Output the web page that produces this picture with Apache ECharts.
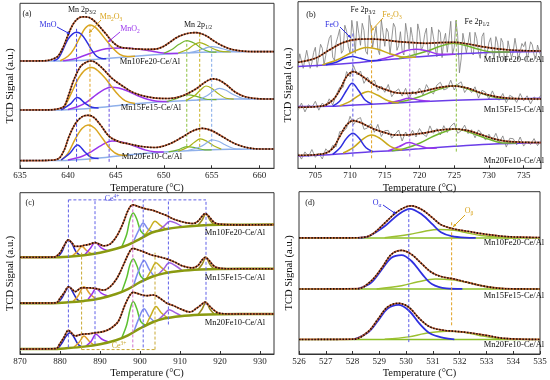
<!DOCTYPE html>
<html><head><meta charset="utf-8">
<script src="https://cdn.jsdelivr.net/npm/echarts@6/dist/echarts.min.js"></script>
<style>html,body{margin:0;padding:0;background:#fff}#c{width:550px;height:380px}</style>
</head><body><div id="c"></div>
<script>
// ---------- Panel (a) Mn 2p ----------
const aTicks = [635,640,645,650,655,660];
const aBgX = [635,639,641,643,645,647,649,651,653,655,657,659,661.5];
const a1Bg = [107.3,107.3,107.8,109,110.5,112,113.5,114.7,115.6,116.2,116.5,116.7,116.7];
const a2Bg = [58.3,58.3,59,60.5,62.5,64.5,66,67,68,68.8,69.2,69.3,69.3];
const a3Bg = [7.7,7.7,8.5,10,12,14,15.5,16.8,17.8,18.6,19,19.2,19.3];
const a1Env = [[635,107.3],[637,107.4],[638,108],[638.5,109.5],[639,112.5],[639.5,121],[640,133],[640.5,143.5],[641,149.5],[641.5,151.5],[642,151.3],[642.5,149.3],[643,145],[643.5,139.5],[644,134],[644.5,128],[645,123.5],[645.5,121],[646.5,119.8],[647.5,119.2],[648.5,119],[649.3,119.5],[650,122],[650.7,126.5],[651.3,130.5],[652,133.5],[652.7,135.3],[653.3,135.7],[654,134.3],[654.6,131.5],[655.2,127.5],[656,123],[656.8,119.8],[657.6,118],[658.5,117],[659.5,116.7],[661.5,116.7]];
const a1MnO = [[638.5,107.5],[639,110],[639.5,119],[640,129],[640.5,134.5],[640.9,136],[641.4,134],[642,126],[642.5,118],[643,112],[643.5,109.8],[644,109.6]];
const a1Mn2O3 = [[639.2,107.5],[640,112],[640.6,119],[641.3,132],[641.8,140],[642.3,143.3],[642.8,141.5],[643.3,136.5],[644,128],[644.7,120],[645.4,114],[646.2,111.8],[647,112]];
const a1MnO2 = [[639.5,107.5],[640.5,109],[641.5,112],[642.5,115.5],[643.5,118.5],[644.5,120],[645.5,120.3],[646.5,120],[647.5,119],[648.5,117.5],[649.5,115.8],[650.5,114.8],[651.5,114.8]];
const a1P1 = [[650,115],[650.8,118.5],[651.6,124],[652.4,127.7],[653.2,125],[654,119.5],[654.8,116.5],[655.5,116.2]];
const a1P2 = [[651.5,115.2],[652.5,119],[653,122.5],[653.75,125.7],[654.5,123],[655.3,119],[656.2,116.6],[657,116.5]];
const a1P3 = [[652.5,115.5],[653.5,117.5],[654.3,120],[655,121.7],[655.8,120.5],[656.7,118],[657.7,116.7],[658.5,116.6]];
const a2Env = [[635,58.3],[638,58.4],[639,59.5],[639.6,62],[640.1,74],[640.6,88],[641.3,101.5],[642,106.5],[642.5,107.3],[643.2,103.5],[643.9,97],[644.6,90],[645.7,82.3],[647,75],[648.8,70.7],[650.5,69.8],[651.9,72.3],[653.3,79],[654.3,86],[655.1,89.5],[655.8,88],[656.6,83],[657.4,76.5],[658.5,71.5],[660,69.5],[661.5,69.3]];
const a2MnO = [[639.3,58.5],[640.2,64],[641,70.7],[641.8,65],[642.5,61],[643.2,60.3]];
const a2Mn2O3 = [[639.5,58.6],[640.1,70],[640.6,80],[641.1,90],[641.8,98.5],[642.5,100.7],[643.2,97],[643.9,90],[644.6,81],[645.3,73],[646,67.5],[647,64.8]];
const a2MnO2 = [[640,58.8],[641,61.5],[642,66.5],[643,74],[643.8,79],[644.5,81],[645.3,80.3],[646.3,77],[647.3,72.5],[648.3,69],[649.3,67],[650.5,66.6]];
const a2P1 = [[650.3,66.8],[651.3,69.5],[652.5,73.5],[653.6,71.5],[654.6,68.8],[655.5,68.7]];
const a2P2 = [[652.3,67.7],[653.2,72.5],[653.8,78],[654.4,82.3],[655,80],[655.7,74.5],[656.5,70],[657.3,69.2]];
const a2P3 = [[653.5,68.3],[654.5,72.5],[655.2,77.5],[655.8,80],[656.5,78],[657.3,73.5],[658.2,70],[659,69.3]];
const a3Env = [[635,7.7],[638,8],[639,9.5],[639.6,18],[640.1,31.5],[640.8,45],[641.5,51.7],[642.1,53],[642.7,51],[643.4,43.3],[644.3,32],[645.3,26.7],[646.4,24.3],[647.7,21.8],[649.1,20.8],[650.5,24],[651.9,31],[653,37.3],[654,40],[655,37.7],[656.1,31.7],[657.5,24.3],[658.9,20.3],[660.2,19.3],[661.5,19.3]];
const a3MnO = [[639.3,8.3],[640.2,15],[641,23.3],[641.8,16],[642.5,10.5],[643.2,9.8]];
const a3Mn2O3 = [[639.3,8.2],[640,15],[640.8,30],[641.5,40],[642.1,43.3],[642.8,40],[643.6,30],[644.5,18.5],[645.3,13.5],[646.2,12.8]];
const a3MnO2 = [[640,8.2],[641.5,12],[642.5,17],[643.5,23],[644.6,27.3],[645.7,26],[647,22],[648,18.5],[649,16.5],[650,16.3]];
const a3P1 = [[650.5,16.5],[651.5,18.5],[652.4,21.7],[653.3,20.5],[654.3,18.5],[655,18.5]];
const a3P2 = [[651.5,17],[652.5,21],[653.2,26],[653.8,29.5],[654.5,27],[655.2,22.5],[656,19.2]];
const a3P3 = [[652.5,17.6],[653.8,21.5],[654.5,25.5],[655,28.5],[655.7,27],[656.4,23.5],[657.3,19.8],[658,19.1]];
const aLineX = [640.9,642.3,644.3,652.4,653.75,655];
const aLineTop = [140,143,128,128,135,122];
const aLineBot = [6.5,6.5,6.5,21.5,21.5,21.5];

// ---------- Panel (b) Fe 2p ----------
const bTicks = [705,710,715,720,725,730,735];
const bRawStart = 702.5;
const b1RawStep = 0.25, b23RawStep = 0.5;
const b1Raw = [101,114.5,113,100,98.5,118,116.5,100,105.5,115.8,121,101,100,124,120,103,113,122,130,133,111,108,126,132,139,115,118,143,137,121.5,115,148,135.5,115,147,135,123,145,138,117,114,153,141,121,132,142,119,113.7,148.5,135.4,122,140,136,113.8,115.5,145,141,118,122.7,136.6,117.4,113.3,145,134,119,141,130.7,114.6,112.5,144.4,136.3,118,122,134,140,113,117,141.3,131.4,120.5,111.6,138.6,135.7,110.7,127.8,135,116,130,147,114,121,147.8,132.7,95.5,109.3,135,136,115.5,125.3,136,115.6,113.3,136,129.6,116.3,110,131.7,135.5,110,116,125.7,130.5,117,109,131.7,125.5,110.3,130,126,108.8,106.6,127.5,126.3,110.2,117,130,129,109,111,124.8,121.7,126.6,107.6,107.5,126.5,123.5,113.4,109.4,123.3,125.3,111.3];
const b2Raw = [58,65.2,56.4,63.6,60.8,67,58.1,65.3,61.5,69.5,63.3,73.5,81,81,96.7,91.5,102.7,93.5,97.3,85,91.3,84.8,88.3,77.8,82.3,76,83.8,71.6,76.7,79.4,72.2,80,69.2,77.4,73.7,80.3,73,83.7,77.5,74.3,83.2,86,78.4,79.8,88.1,78.3,84,86.5,75.8,81,75.8,81.5,70.2,78,76.1,69.2,77.4,69.7,68.2,74.8,65.4,73,70.9,65.8,74.7,67.6,72.5,64.4,71.4,68.3,73.3];
const b3Raw = [15,9.2,16.4,11.6,18.8,11,15.1,9.3,19.5,15.5,23,21.5,36.7,36.5,40.3,52,43.7,49,50.7,39,40.3,44.6,36,43.9,31.8,37.7,37.9,30.1,34.3,38.3,27.3,36.3,31.6,38,31.3,39.8,34.2,31.7,42.4,35,39.7,33.3,42.6,35.8,42.1,45.3,35,37.5,43.1,34.7,38.6,30.5,38.4,34.3,28.2,34.1,28,35,26,32.4,21.2,30,29.6,23.4,31.3,22.2,26.9,23.8,29.7,22.7,27.7];
const bBgX = [702.5,707,710,713,716,720,725,730,737.5];
const b1Bg = [101.7,103.5,105,107,109,111.5,114,115.7,116.7];
const b2Bg = [61.7,62,63,64,65,66.5,68,69,70];
const b3Bg = [12.3,13.5,15,16.5,17.5,19.5,22,24,25.7];
const b1Env = [[702.5,106],[705,110],[707,118.3],[709,125.7],[711,129],[713,129.3],[715,128.3],[717,126.7],[719,125.7],[721,125],[723,125.7],[725,126],[727,124.3],[729,121.7],[731,119.7],[733,118.3],[735,117.7],[737.5,117.3]];
const b2Env = [[702.5,61],[706,62.3],[707.5,68.3],[708.5,78],[709.5,91.7],[710.5,96.7],[711.5,93.3],[712.5,88.3],[713.5,83.3],[715,79],[716.5,75.7],[718,75],[719.5,75.7],[721,77.7],[723,81],[725,82.3],[727,80],[729,75],[731,71.7],[733,70],[737.5,69.3]];
const b3Env = [[702.5,13],[706,14.3],[707.5,20],[708.5,31.7],[709.5,43.3],[710.5,47.7],[711.5,45.7],[712.5,42.3],[713.5,39],[715,35.7],[716.5,33.3],[718,33.3],[719.5,34.3],[721,35.7],[723,38.3],[725,39.3],[727,37.7],[729,33.3],[731,29],[733,26.7],[737.5,25.7]];
const b1FeO = [[706.5,103.6],[708,106],[709.2,110],[710.3,111.7],[711.5,110],[713,107.6],[714.5,108]];
const b1Fe2O3 = [[706,103.4],[708,108],[710,115],[711.5,119.5],[712.5,120.7],[714,119],[716,114],[718,111],[719.5,111]];
const b1Sat = [[714,108.3],[716,112],[718,117.5],[719.5,119],[721,117.5],[723,114],[725,114]];
const b1P = [[717,109.8],[719,113],[721,117],[723,122],[724.8,125],[726.5,123],[728.5,119],[730.5,116.3],[733,116.2]];
const b2FeO = [[707.5,62.2],[708.5,67],[709.5,78],[710.3,85],[711.2,78],[712.2,68],[713.2,64.2]];
const b2Fe2O3 = [[708.5,62.5],[710,67],[711.5,74],[712.6,76.7],[714,73],[715.5,67.5],[717,65.3]];
const b2Sat = [[715.5,65.2],[717,67.5],[718.5,70],[720,68],[721.5,67]];
const b2P = [[716,65.2],[718,67.5],[720,71.5],[722,77],[724,81.5],[725,82.3],[726,81.5],[728,77],[730,72.5],[732,69.8],[734,69.5]];
const b3FeO = [[707.5,14],[708.5,20],[709.5,30],[710.4,35],[711.3,30],[712.3,20.5],[713.3,16.6]];
const b3Fe2O3 = [[709,15.3],[710.5,21],[712,30],[713.1,33.3],[714.3,30],[715.8,22],[717.5,18.3]];
const b3Sat = [[715.5,17.5],[717,21.5],[718.5,25.7],[720,22.5],[721.5,20],[722.5,20.2]];
const b3P = [[716,17.5],[718,20],[720,25],[722,32],[724,37.5],[725,39.3],[726,38.5],[728,34],[730,29],[732,25.3],[734,25.2]];
const bLineX = [710.4,713.1,718.6,725.3];
const bLineTop = [136.7,143.3,118.3,148.3];
const bLineBot = [11.7,10,11.7,16.7];

// ---------- Panel (c) Ce 3d ----------
const cTicks = [870,880,890,900,910,920,930];
const cBgX = [870,878,882,886,890,894,897,900,903,906,910,915,920,933.5];
const c1Bg = [98.3,98.3,99,100.5,103,107,111,117,123.5,126.5,129,130.7,131.3,131.7];
const c2Bg = [51.7,51.7,52.5,54,56.5,61,66,73,78.5,82,84.5,86,86.5,86.7];
const c3Bg = [5,5,6,7.5,10,14,19,26,32,36,38.5,40,40.5,40.7];
const c1Env = [[870,98.3],[878.5,98.5],[880,103],[881,110],[882.1,116],[883,113],[883.75,109.5],[884.8,109.5],[885.8,110.3],[887.5,111.7],[888.75,113.3],[890,111.5],[890.8,110],[892.5,111.7],[894.2,120],[895.8,133.3],[897.1,146.7],[898.2,151.7],[900,149.3],[901.7,147.3],[903.3,146],[905,143.3],[906.7,140.7],[908.3,137.3],[910,135],[911.7,133.3],[913.3,132.7],[914.5,135],[915.4,139.5],[916.3,142.7],[917.2,140],[918,136],[918.9,133],[920.8,131.7],[925,131.3],[933.5,131.5]];
const c1V = [[879.5,98.6],[880.5,104],[881.3,112],[882.1,116],[883,112],[884,104],[885,100.2]];
const c1V1 = [[883,99.6],[884.3,104],[885.5,109.3],[886.7,105],[888,101.8]];
const c1V2 = [[886.2,101],[887.5,107],[888.8,113.3],[890.3,108],[892,105]];
const c1V3 = [[895.5,109.5],[896.7,122],[897.5,137],[898.3,143.3],[899.2,137],[900.2,125],[901.5,120.5]];
const c1U = [[898.5,115.5],[899.7,126],[900.8,133.3],[902,127],[903.3,123.7]];
const c1U1 = [[901,119.5],[902.5,128],[903.75,135],[905,131],[906.5,127]];
const c1U2 = [[904.5,125.3],[906,130],[907.5,135],[909,133],[910.5,129.5]];
const c1U3 = [[914.5,130.8],[915.5,136],[916.5,142.7],[917.5,136],[918.5,131.4]];
const c2Env = [[870,51.7],[879,52],[880,56.7],[881,62],[882.1,68.3],[883,66],[883.75,63.3],[885.4,67.3],[887.1,67.3],[888.75,66.7],[890.8,65],[892.5,68.3],[894.2,76.7],[895.8,90],[897.1,101.7],[898.2,107.3],[899.6,105.7],[901.25,103.3],[902.9,100.7],[904.6,99],[906.7,96.7],[908.75,93.3],[910.8,89.3],[913,87.5],[914.5,90],[915.4,95],[916.3,98.3],[917.2,95.5],[918,91.5],[918.9,88.3],[921.7,86.7],[933.5,86.7]];
const c2V = [[879.5,52],[880.5,57],[881.4,64],[882.3,68.3],[883.2,63],[884.2,56],[885.2,53.3]];
const c2V1 = [[883.2,53],[884.5,59],[886,68.3],[887.5,61],[889,56]];
const c2V2 = [[887,55.5],[888,61],[889,66.7],[890.3,62],[892,59]];
const c2V3 = [[895.5,64],[896.7,78],[897.5,91],[898.3,96.7],[899.2,90],[900.2,79],[901.5,75]];
const c2U = [[898.5,71],[899.7,85],[901,95],[902.3,86],[903.5,79]];
const c2U1 = [[901.5,76],[902.8,85],[904,92.7],[905.3,88],[907,82.5]];
const c2U2 = [[904.5,80.5],[906,87],[907.3,92.7],[908.8,90],[910.5,85]];
const c2U3 = [[914.5,86],[915.5,91],[916.5,98.3],[917.5,91],[918.5,86.5]];
const c3Env = [[870,5],[879,5.5],[880,10.7],[881,17],[882.1,24],[883,21],[883.75,18.3],[885.4,20],[887.5,20.7],[889.2,21.7],[891.25,23.3],[892.9,26.7],[894.6,33.3],[896.25,50],[897.5,60],[898.3,62.7],[900,60.7],[901.7,59.3],[903.3,60],[905,56.7],[906.7,51.7],[908.3,49.3],[910,46],[912.5,42.7],[914.2,46.7],[915.3,50],[916.25,52.7],[917.1,50],[917.9,46.7],[919.6,41.7],[923.3,40.7],[933.5,40.7]];
const c3V = [[879.5,5.5],[880.5,11],[881.5,18],[882.5,21.7],[883.5,17],[884.5,10],[885.5,7.2]];
const c3V1 = [[883.5,7],[884.8,12],[886,18.3],[887.3,13],[888.5,9]];
const c3V2 = [[886.5,8],[887.8,13],[889,20],[890.5,15],[892,12.5]];
const c3V3 = [[895.5,17],[896.7,30],[897.5,45],[898.3,53.3],[899.2,46],[900.2,33],[901.5,29]];
const c3U = [[898.5,23],[899.7,36],[901,46],[902.3,38],[903.5,33]];
const c3U1 = [[901.5,29],[902.8,40],[904,48.3],[905.3,42],[907,36.5]];
const c3U2 = [[904.5,34.5],[906,40],[907.3,45],[908.8,42],[910.5,38.5]];
const c3U3 = [[914.5,40],[915.5,45.5],[916.5,52.7],[917.5,45.5],[918.5,41]];
const cCe4X = [882.1,888.75,898.2,900.8,907.1,916.5];
const cCe4Bot = [6.7,10,6.7,6.7,30,50];
const cCe4Top = 156.7;
const cCe3X = [885.4,903.75];
const cCe3Top = 103, cCe3Bot = 4.5;

// ---------- Panel (d) O 1s ----------
const dTicks = [526,527,528,529,530,531,532,533,534,535];
const d1Bg = [[526,117.3],[535,117.3]];
const d2Bg = [[526,65.7],[535,65.7]];
const d3Bg = [[526,14.7],[535,14.7]];
const d1Env = [[526,117.3],[528,117.4],[528.5,118.2],[528.8,122.3],[529.2,132.3],[529.6,142.3],[529.96,148.3],[530.2,149.7],[530.6,145.7],[531,137.3],[531.3,130.7],[531.8,126.3],[532.3,124],[532.8,121.7],[533.6,119],[534.3,118],[535,117.7]];
const d1Oa = [[528.2,117.4],[528.6,119],[529.2,129],[529.7,140.7],[530.14,146.7],[530.6,140.7],[531,130.7],[531.3,123],[531.7,119],[532.2,117.5],[532.6,117.3]];
const d1Ob = [[529.2,117.4],[530.1,120.7],[530.7,124],[531.2,125.7],[531.8,125],[532.3,122.3],[532.8,119.7],[533.6,117.7],[534.2,117.3]];
const d2Env = [[526,65.7],[528.2,66],[528.7,74],[529.1,87.3],[529.45,100.7],[529.83,104.7],[530.2,100.7],[530.6,90.7],[530.96,82.3],[531.3,78.3],[531.8,75.7],[532.3,72.3],[532.95,68.3],[533.7,66],[535,65.7]];
const d2Oa = [[528.2,65.8],[528.7,72.3],[529.1,85.7],[529.45,97.3],[529.83,100],[530.2,94],[530.6,80.7],[530.96,70.7],[531.5,66.3],[532.1,65.8]];
const d2Ob = [[528.9,65.8],[529.83,69],[530.45,73],[531.1,75.7],[531.7,75],[532.3,72.3],[532.95,68.3],[533.7,66],[534.4,65.7]];
const d3Env = [[526,14.7],[528.05,15],[528.6,23],[528.96,35.7],[529.3,47.3],[529.71,51.3],[530.1,47.3],[530.5,35.7],[530.9,27.3],[531.4,24],[531.8,23],[532.3,21.7],[532.95,19],[533.7,15.7],[535,14.7]];
const d3Oa = [[528.05,14.8],[528.6,22.3],[528.96,34],[529.3,45.7],[529.71,49.7],[530.1,44],[530.5,30.7],[530.9,20.7],[531.4,16.3],[531.8,14.8]];
const d3Ob = [[529.2,14.9],[530.1,17.3],[530.7,20.7],[531.5,23],[532.1,22.3],[532.7,19],[533.4,15.7],[534.1,14.7]];
const dLineX = [530.1,531.7];
const dLineTop = [150,134];
const dLineBot = [12,29];

const sampleNames = ['Mn10Fe20-Ce/Al','Mn15Fe15-Ce/Al','Mn20Fe10-Ce/Al'];

// ---------- build ----------
const SERIF = '"Liberation Serif","DejaVu Serif",serif';
const BLUE='#2f2fe0', GOLD='#d9a520', PURP='#9a35ec', GREEN='#72b52e', LBLUE='#8fb0ea', OLIVE='#a9b31a';
const series = [];
function L(gi, data, color, width, extra){
  const s = {type:'line', xAxisIndex:gi, yAxisIndex:gi, data:data, symbol:'none', smooth:0.35,
    lineStyle:{color:color, width:width}, silent:true, animation:false, z:3};
  if (extra){ if(extra.type) s.lineStyle.type = extra.type; if(extra.z) s.z = extra.z; if(extra.smooth!==undefined) s.smooth = extra.smooth; }
  series.push(s);
}
function zip(xs, ys){ return xs.map((x,i)=>[x, ys[i]]); }
function env(gi, data){ L(gi, data, '#c0603a', 1.7, {z:8}); L(gi, data, '#1c1008', 1.6, {z:9, type:[1.5,1.6]}); }
function vline(gi, x, y0, y1, color){ L(gi, [[x,y0],[x,y1]], color, 1, {type:[3,2], smooth:false, z:6}); }

// panel a
[[a1Bg,a1Env,a1MnO,a1Mn2O3,a1MnO2,a1P1,a1P2,a1P3],[a2Bg,a2Env,a2MnO,a2Mn2O3,a2MnO2,a2P1,a2P2,a2P3],[a3Bg,a3Env,a3MnO,a3Mn2O3,a3MnO2,a3P1,a3P2,a3P3]].forEach(s=>{
  L(0, zip(aBgX, s[0]), LBLUE, 1.5);
  L(0, s[4], PURP, 1.5); L(0, s[3], GOLD, 1.5); L(0, s[2], BLUE, 1.5);
  L(0, s[5], GREEN, 1.2); L(0, s[6], OLIVE, 1.2); L(0, s[7], LBLUE, 1.2);
  env(0, s[1]);
});
const aLineCol = ['#4b4be8','#e0a020','#6a4ee0','#8cc040','#c8b020','#80a8e8'];
aLineX.forEach((x,i)=>vline(0, x, aLineBot[i], aLineTop[i], aLineCol[i]));

// panel b
[[b1Raw,b1RawStep,b1Bg,b1Env,b1FeO,b1Fe2O3,b1Sat,b1P],[b2Raw,b23RawStep,b2Bg,b2Env,b2FeO,b2Fe2O3,b2Sat,b2P],[b3Raw,b23RawStep,b3Bg,b3Env,b3FeO,b3Fe2O3,b3Sat,b3P]].forEach(s=>{
  L(1, s[0].map((v,i)=>[bRawStart + i*s[1], v]), '#7c7c7c', 0.8, {smooth:false, z:2});
  L(1, zip(bBgX, s[2]), '#6a3de8', 1.5);
  L(1, s[7], GREEN, 1.5); L(1, s[6], PURP, 1.5); L(1, s[5], '#c9a91a', 1.5); L(1, s[4], BLUE, 1.5);
  env(1, s[3]);
});
const bLineCol = ['#5a5ae8','#e0a020','#b070f0','#8cc040'];
bLineX.forEach((x,i)=>vline(1, x, bLineBot[i], bLineTop[i], bLineCol[i]));

// panel c
[[c1Bg,c1Env,c1V,c1V1,c1V2,c1V3,c1U,c1U1,c1U2,c1U3],[c2Bg,c2Env,c2V,c2V1,c2V2,c2V3,c2U,c2U1,c2U2,c2U3],[c3Bg,c3Env,c3V,c3V1,c3V2,c3V3,c3U,c3U1,c3U2,c3U3]].forEach(s=>{
  L(2, s[2], '#2525c8', 1.5); L(2, s[3], '#e0a030', 1.5); L(2, s[4], PURP, 1.5);
  L(2, s[5], '#5cc030', 1.5); L(2, s[6], '#7d8cf0', 1.5); L(2, s[7], '#c8b020', 1.5);
  L(2, s[8], '#a060e0', 1.5); L(2, s[9], '#9a8a20', 1.5);
  L(2, zip(cBgX, s[0]), '#8a9a10', 2.5, {z:4});
  env(2, s[1]);
});
cCe4X.forEach((x,i)=>vline(2, x, cCe4Bot[i], cCe4Top, i===2 ? '#d070d0' : '#6060e8'));
L(2, [[cCe4X[0], cCe4Top],[cCe4X[5], cCe4Top]], '#6060e8', 1, {type:[3,2], smooth:false, z:6});
cCe3X.forEach(x=>vline(2, x, cCe3Bot, cCe3Top, '#c8a832'));
L(2, [[cCe3X[0], cCe3Bot],[cCe3X[1], cCe3Bot]], '#c8a832', 1, {type:[3,2], smooth:false, z:6});

// panel d
[[d1Bg,d1Env,d1Oa,d1Ob],[d2Bg,d2Env,d2Oa,d2Ob],[d3Bg,d3Env,d3Oa,d3Ob]].forEach(s=>{
  L(3, s[0], '#8cbf26', 1.5, {smooth:false});
  L(3, s[3], '#9cc030', 1.5); L(3, s[2], BLUE, 1.8);
  env(3, s[1]);
});
vline(3, dLineX[0], dLineBot[0], dLineTop[0], '#5a5ae8');
vline(3, dLineX[1], dLineBot[1], dLineTop[1], '#e0a020');

// axes
const grids = [
  {left:20, top:3.3, width:254, height:165},
  {left:298, top:1.7, width:243, height:166.6},
  {left:20, top:192.7, width:254, height:164},
  {left:299, top:191.7, width:241, height:164}
];
const xr = [[635,661.5,aTicks],[702.5,737.5,bTicks],[870,933.5,cTicks],[526,535,dTicks]];
const xAxis = xr.map((r,gi)=>({type:'value', gridIndex:gi, min:r[0], max:r[1],
  name:'Temperature (°C)', nameLocation:'middle', nameGap:14,
  nameTextStyle:{fontFamily:SERIF, fontSize:10.5, color:'#111'},
  axisLine:{show:true, lineStyle:{color:'#333', width:1}},
  axisTick:{show:true, inside:true, length:3, customValues:r[2], lineStyle:{color:'#333'}},
  axisLabel:{customValues:r[2], fontFamily:SERIF, fontSize:9, color:'#222', margin:3},
  splitLine:{show:false}}));
const yAxis = grids.map((g,gi)=>({type:'value', gridIndex:gi, min:0, max:g.height,
  name:'TCD Signal (a.u.)', nameLocation:'middle', nameGap:4,
  nameTextStyle:{fontFamily:SERIF, fontSize:10.5, color:'#111'},
  axisLine:{show:false}, axisTick:{show:false}, axisLabel:{show:false}, splitLine:{show:false}}));

// annotations
const sub = {s:{fontSize:5.5, fontFamily:SERIF, padding:[5,0,0,0]}, p:{fontSize:5.5, fontFamily:SERIF, padding:[0,0,5,0]}};
function T(x, y, text, color, size){
  return {type:'text', x:x, y:y, silent:true, z:50, style:{text:text, fill:color||'#111', fontFamily:SERIF, fontSize:size||8,
    align:'center', verticalAlign:'middle', rich:JSON.parse(JSON.stringify(sub))}};
}
function A(x1,y1,x2,y2,color){
  const ang = Math.atan2(y2-y1, x2-x1), h=3.5;
  return [{type:'line', silent:true, z:50, shape:{x1:x1,y1:y1,x2:x2,y2:y2}, style:{stroke:color, lineWidth:1}},
    {type:'polygon', silent:true, z:50, shape:{points:[[x2,y2],[x2-h*Math.cos(ang-0.45), y2-h*Math.sin(ang-0.45)],[x2-h*Math.cos(ang+0.45), y2-h*Math.sin(ang+0.45)]]}, style:{fill:color}}];
}
const graphic = [
  T(27,14,'(a)'), T(82,10,'Mn 2p{s|3/2}'), T(48,25,'MnO',BLUE), T(111,17,'Mn{s|2}O{s|3}',GOLD), T(130,29,'MnO{s|2}',PURP), T(198,25,'Mn 2p{s|1/2}'),
  T(150,62,sampleNames[0],'#111',8.5), T(151,108,sampleNames[1],'#111',8.5), T(152,157,sampleNames[2],'#111',8.5),
  T(311,15,'(b)'), T(363,10,'Fe 2p{s|3/2}'), T(392,15,'Fe{s|2}O{s|3}',GOLD), T(332,25,'FeO',BLUE), T(477,22,'Fe 2p{s|1/2}'),
  T(514,60,sampleNames[0],'#111',8.5), T(514,110,sampleNames[1],'#111',8.5), T(514,160.5,sampleNames[2],'#111',8.5),
  T(30,203,'(c)'), T(112,199,'Ce{p|4+}','#5050e0'), T(119,346,'Ce{p|3+}','#c8a832'),
  T(235,233,sampleNames[0],'#111',8.5), T(235,278,sampleNames[1],'#111',8.5), T(235,323,sampleNames[2],'#111',8.5),
  T(310,203,'(d)'), T(377,203,'O{s|α}',BLUE), T(469,211,'O{s|β}',GOLD),
  T(514,243,sampleNames[0],'#111',8.5), T(514,296,sampleNames[1],'#111',8.5), T(514,345,sampleNames[2],'#111',8.5)
].concat(A(57,27,70,34,BLUE), A(101,20,89,33,GOLD), A(120,32,108,42,PURP),
  A(340,27,351,38,BLUE), A(383,18,371,31,GOLD), A(383,205,396,214,BLUE), A(465,215,453,227,GOLD));

const chart = echarts.init(document.getElementById('c'), null, {renderer:'canvas'});
chart.setOption({
  backgroundColor:'#fff', animation:false,
  grid: grids.map(g=>Object.assign({show:true, borderColor:'#333', borderWidth:1, backgroundColor:'transparent', containLabel:false}, g)),
  xAxis: xAxis, yAxis: yAxis, series: series, graphic: graphic
});
</script></body></html>
